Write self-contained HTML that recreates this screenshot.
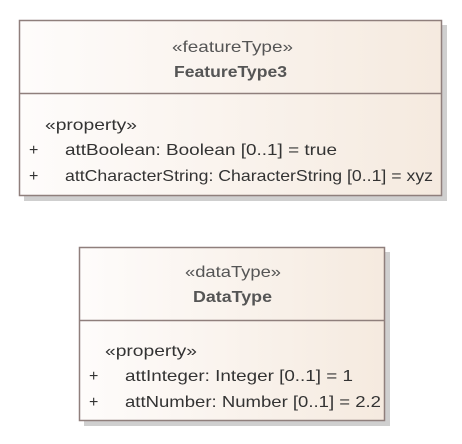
<!DOCTYPE html>
<html><head><meta charset="utf-8"><style>
html,body{margin:0;padding:0;background:#fff;width:462px;height:444px;overflow:hidden}
text{font-family:"Liberation Sans",sans-serif;font-size:16px;fill:#333}
</style></head><body>
<svg width="462" height="444" xmlns="http://www.w3.org/2000/svg">
<defs>
<linearGradient id="g" x1="0" y1="0" x2="1" y2="0">
<stop offset="0" stop-color="#fefcfb"/><stop offset="1" stop-color="#f5eadf"/>
</linearGradient>
</defs>
<rect x="24" y="25" width="423" height="176" fill="#cfcfcf"/>
<rect x="19.5" y="20.5" width="422" height="175" fill="url(#g)" stroke="#8f7f7c" stroke-width="1.5"/>
<line x1="19.5" y1="93.5" x2="441.5" y2="93.5" stroke="#8f7f7c" stroke-width="1.5"/>
<text x="172" y="52" textLength="121" lengthAdjust="spacingAndGlyphs" style="fill:#555">«featureType»</text>
<text x="174" y="77" textLength="113" lengthAdjust="spacingAndGlyphs" font-weight="bold" style="fill:#555">FeatureType3</text>
<text x="45" y="130" textLength="92" lengthAdjust="spacingAndGlyphs">«property»</text>
<text x="29" y="155">+</text>
<text x="65" y="155" textLength="272" lengthAdjust="spacingAndGlyphs">attBoolean: Boolean [0..1] = true</text>
<text x="29" y="181">+</text>
<text x="65" y="181" textLength="368" lengthAdjust="spacingAndGlyphs">attCharacterString: CharacterString [0..1] = xyz</text>

<rect x="84" y="252" width="306" height="174" fill="#cfcfcf"/>
<rect x="79.5" y="247.5" width="305" height="173" fill="url(#g)" stroke="#8f7f7c" stroke-width="1.5"/>
<line x1="79.5" y1="320.5" x2="384.5" y2="320.5" stroke="#8f7f7c" stroke-width="1.5"/>
<text x="185" y="277" textLength="96" lengthAdjust="spacingAndGlyphs" style="fill:#555">«dataType»</text>
<text x="193" y="302" textLength="79" lengthAdjust="spacingAndGlyphs" font-weight="bold" style="fill:#555">DataType</text>
<text x="105" y="356" textLength="92" lengthAdjust="spacingAndGlyphs">«property»</text>
<text x="89" y="381">+</text>
<text x="125" y="381" textLength="228" lengthAdjust="spacingAndGlyphs">attInteger: Integer [0..1] = 1</text>
<text x="89" y="407">+</text>
<text x="125" y="407" textLength="256" lengthAdjust="spacingAndGlyphs">attNumber: Number [0..1] = 2.2</text>
</svg>
</body></html>
